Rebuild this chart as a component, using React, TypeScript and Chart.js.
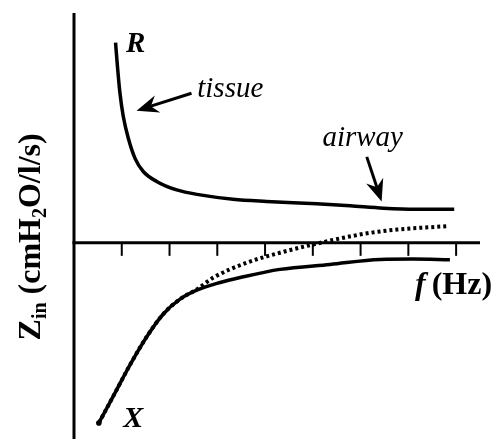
import React, { useEffect, useRef } from "react";
import { Chart, registerables } from "chart.js";

Chart.register(...registerables);

// Resistance R(f): steep tissue component at low frequency, flat airway plateau
const FREQ_R = [0.87, 0.91, 0.96, 1.03, 1.14, 1.28, 1.45, 1.73, 2.15, 2.64, 3.33, 4.03, 5.08, 5.78, 6.48, 7.18, 7.96];
const R_VALUES = [10.1, 8.9, 7.6, 6.4, 5.25, 4.25, 3.6, 3.1, 2.67, 2.42, 2.2, 2.09, 1.97, 1.87, 1.75, 1.7, 1.7];

// Reactance X(f), solid curve
const FREQ_X = [0.52, 0.82, 1.17, 1.52, 1.87, 2.22, 2.57, 3.06, 3.48, 4.31, 5.36, 6.41, 7.1, 7.87];
const X_VALUES = [-9.09, -7.75, -6.17, -4.75, -3.59, -2.84, -2.39, -2.0, -1.75, -1.34, -1.09, -0.84, -0.82, -0.85];

// Reactance with inertance, dotted curve crossing zero
const FREQ_X_DOT = [0.52, 0.82, 1.17, 1.52, 1.87, 2.22, 2.57, 2.92, 3.62, 4.31, 5.01, 6.06, 6.76, 7.8];
const X_DOT_VALUES = [-9.09, -7.75, -6.17, -4.75, -3.59, -2.84, -2.35, -1.75, -1.0, -0.5, -0.08, 0.45, 0.67, 0.84];

const FREQ_TICKS = [1, 2, 3, 4, 5, 6, 7, 8];

const SERIF = '"Liberation Serif", "Times New Roman", Times, serif';

const pts = (xs: number[], ys: number[]) => xs.map((v, i) => ({ x: v, y: ys[i] }));

function arrow(ctx: CanvasRenderingContext2D, x0: number, y0: number, x1: number, y1: number) {
  const ang = Math.atan2(y1 - y0, x1 - x0);
  const len = 22, half = 9, notch = 15;
  const bx = x1 - Math.cos(ang) * notch;
  const by = y1 - Math.sin(ang) * notch;
  ctx.beginPath();
  ctx.moveTo(x0, y0);
  ctx.lineTo(bx, by);
  ctx.lineWidth = 3;
  ctx.stroke();
  const cx = x1 - Math.cos(ang) * len;
  const cy = y1 - Math.sin(ang) * len;
  const nx = -Math.sin(ang), ny = Math.cos(ang);
  ctx.beginPath();
  ctx.moveTo(x1, y1);
  ctx.lineTo(cx + nx * half, cy + ny * half);
  ctx.lineTo(bx, by);
  ctx.lineTo(cx - nx * half, cy - ny * half);
  ctx.closePath();
  ctx.fill();
}

const impedancePlugin = {
  id: "impedanceAxes",
  beforeDatasetsDraw(chart: any) {
    const { ctx, chartArea, scales } = chart;
    const xs = scales.x, ys = scales.y;
    const x0 = xs.getPixelForValue(0);
    const y0 = ys.getPixelForValue(0);
    ctx.save();
    ctx.strokeStyle = "#000";
    ctx.lineCap = "butt";
    ctx.lineWidth = 3;
    ctx.beginPath();
    ctx.moveTo(x0, chartArea.top);
    ctx.lineTo(x0, chartArea.bottom);
    ctx.stroke();
    ctx.beginPath();
    ctx.moveTo(x0 - 1.5, y0);
    ctx.lineTo(chartArea.right, y0);
    ctx.stroke();
    ctx.lineWidth = 2;
    for (const t of FREQ_TICKS) {
      const px = xs.getPixelForValue(t);
      ctx.beginPath();
      ctx.moveTo(px, y0);
      ctx.lineTo(px, y0 + 13);
      ctx.stroke();
    }
    ctx.restore();
  },
  afterDraw(chart: any) {
    const { ctx, scales } = chart;
    const xs = scales.x, ys = scales.y;
    const X = (v: number) => xs.getPixelForValue(v);
    const Y = (v: number) => ys.getPixelForValue(v);
    ctx.save();
    ctx.fillStyle = "#000";
    ctx.strokeStyle = "#000";
    ctx.textBaseline = "alphabetic";
    ctx.textAlign = "left";

    ctx.font = `italic bold 29px ${SERIF}`;
    ctx.fillText("R", X(1.09), Y(9.65));

    ctx.font = `italic 29px ${SERIF}`;
    ctx.fillText("tissue", X(2.58), Y(7.35));
    ctx.fillText("airway", X(5.2), Y(4.9));
    ctx.font = `italic bold 30px ${SERIF}`;
    ctx.fillText("X", X(1.03), Y(-9.3));

    arrow(ctx, X(2.46), Y(7.55), X(1.31), Y(6.67));
    arrow(ctx, X(6.13), Y(4.34), X(6.44), Y(2.09));

    // axis label f (Hz)
    ctx.font = `italic bold 32px ${SERIF}`;
    const fx = X(7.14), fy = Y(-2.6);
    ctx.fillText("f", fx, fy);
    const fw = ctx.measureText("f").width;
    ctx.font = `bold 32px ${SERIF}`;
    ctx.fillText("(Hz)", fx + fw + 6, fy);

    // vertical title Zin (cmH2O/l/s)
    const main = `bold 32px ${SERIF}`;
    const sub = `bold 20px ${SERIF}`;
    const parts: [string, string, number][] = [
      ["Z", main, 0],
      ["in", sub, 6],
      [" (cmH", main, 0],
      ["2", sub, 6],
      ["O/l/s)", main, 0],
    ];
    let total = 0;
    for (const [t, f] of parts) {
      ctx.font = f;
      total += ctx.measureText(t).width;
    }
    ctx.translate(X(0) - 34, Y(0.3));
    ctx.rotate(-Math.PI / 2);
    let cx = -total / 2;
    for (const [t, f, dy] of parts) {
      ctx.font = f;
      ctx.fillText(t, cx, dy);
      cx += ctx.measureText(t).width;
    }
    ctx.restore();
  },
};

export default function App() {
  const ref = useRef<HTMLCanvasElement | null>(null);

  useEffect(() => {
    document.body.style.margin = "0";
    const canvas = ref.current;
    if (!canvas) return;
    const line = {
      showLine: true,
      borderColor: "#000",
      backgroundColor: "#000",
      borderWidth: 3.5,
      cubicInterpolationMode: "monotone" as const,
      pointRadius: 0,
      fill: false,
    };
    const chart = new Chart(canvas, {
      type: "scatter",
      data: {
        datasets: [
          { ...line, label: "R", data: pts(FREQ_R, R_VALUES) },
          {
            ...line,
            label: "X fit",
            data: pts(FREQ_X_DOT, X_DOT_VALUES),
            borderWidth: 4,
            borderDash: [3, 3],
            borderCapStyle: "butt",
          },
          {
            ...line,
            label: "X",
            data: pts(FREQ_X, X_VALUES),
            pointRadius: (c: any) => (c.dataIndex === 0 ? 2.8 : 0),
            pointBackgroundColor: "#000",
            pointBorderWidth: 0,
          },
        ],
      },
      options: {
        responsive: false,
        animation: false,
        layout: { padding: { left: 74, right: 23, top: 13, bottom: 0 } },
        scales: {
          x: { type: "linear", min: 0, max: 8.5, display: false },
          y: { type: "linear", min: -9.9, max: 11.6, display: false },
        },
        plugins: { legend: { display: false }, tooltip: { enabled: false } },
      },
      plugins: [impedancePlugin],
    } as any);
    return () => chart.destroy();
  }, []);

  return (
    <canvas
      ref={ref}
      width={503}
      height={443}
      style={{ display: "block", width: 503, height: 443, background: "#fff" }}
    />
  );
}
